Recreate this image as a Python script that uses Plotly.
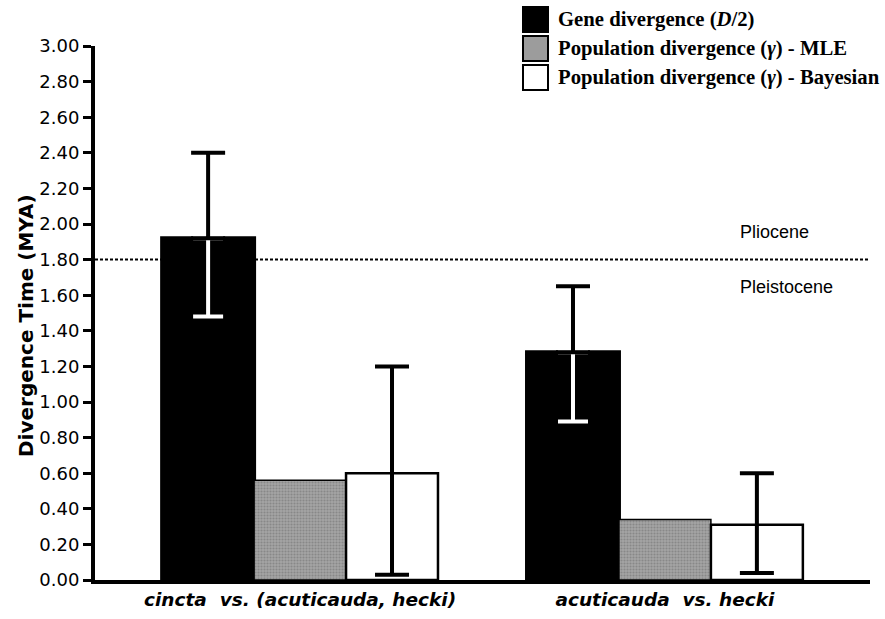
import plotly.graph_objects as go

# ---------------- data ----------------
categories = ["cincta\u00a0 vs. (acuticauda, hecki)", "acuticauda\u00a0 vs. hecki"]
gene = [1.92, 1.28]
gene_hi = [2.40, 1.65]
gene_lo = [1.48, 0.89]
mle = [0.56, 0.34]
bayes = [0.60, 0.31]
bayes_hi = [1.20, 0.60]
bayes_lo = [0.03, 0.04]

series_names = [
    "<b>Gene divergence (<i>D</i>/2)</b>",
    "<b>Population divergence (<i>\u03b3</i>) - MLE</b>",
    "<b>Population divergence (<i>\u03b3</i>) - Bayesian</b>",
]
y_ticks = [round(0.2 * i, 2) for i in range(16)]

# ---------------- layout constants ----------------
W, H = 885, 619
ML, MR, MT, MB = 95, 15, 46, 39
PW, PH = W - ML - MR, H - MT - MB


def px_x(px):
    return (px - ML) / PW


def px_y(py):
    return (H - MB - py) / PH


fig = go.Figure()

# gene divergence bars
fig.add_trace(go.Bar(
    x=categories, y=gene, offsetgroup="gene", name=series_names[0],
    marker=dict(color="black", line=dict(color="black", width=4)),
    showlegend=False, hoverinfo="y",
))
# white lower error (inside black bar)
fig.add_trace(go.Bar(
    x=categories, y=gene, offsetgroup="gene",
    marker=dict(color="rgba(0,0,0,0)", line=dict(width=0)),
    error_y=dict(type="data", symmetric=False,
                 array=[0 for _ in gene],
                 arrayminus=[g - l for g, l in zip(gene, gene_lo)],
                 color="white", thickness=4, width=15),
    showlegend=False, hoverinfo="skip",
))
# black upper error
fig.add_trace(go.Bar(
    x=categories, y=gene, offsetgroup="gene",
    marker=dict(color="rgba(0,0,0,0)", line=dict(width=0)),
    error_y=dict(type="data", symmetric=False,
                 array=[h - g for g, h in zip(gene, gene_hi)],
                 arrayminus=[0 for _ in gene],
                 color="black", thickness=4, width=17),
    showlegend=False, hoverinfo="skip",
))
# MLE bars (stippled gray)
fig.add_trace(go.Bar(
    x=categories, y=mle, offsetgroup="mle", name=series_names[1],
    marker=dict(color="#9c9c9c", line=dict(color="black", width=1.5),
                pattern=dict(shape=".", fgcolor="#6c6c6c", bgcolor="#a4a4a4",
                             size=3, solidity=0.4)),
    showlegend=False, hoverinfo="y",
))
# Bayesian bars
fig.add_trace(go.Bar(
    x=categories, y=bayes, offsetgroup="bayes", name=series_names[2],
    marker=dict(color="white", line=dict(color="black", width=2.5)),
    error_y=dict(type="data", symmetric=False,
                 array=[h - b for b, h in zip(bayes, bayes_hi)],
                 arrayminus=[b - l for b, l in zip(bayes, bayes_lo)],
                 color="black", thickness=4, width=17),
    showlegend=False, hoverinfo="y",
))

shapes = [
    dict(type="line", xref="paper", yref="y", x0=0, x1=1, y0=1.80, y1=1.80,
         line=dict(color="black", width=2, dash="3px,2px"), layer="below"),
]
annotations = [
    dict(text="Pliocene", xref="paper", yref="paper", x=px_x(738), y=px_y(232),
         xanchor="left", yanchor="middle", showarrow=False,
         font=dict(family="Liberation Sans", size=18, color="black")),
    dict(text="Pleistocene", xref="paper", yref="paper", x=px_x(738), y=px_y(287),
         xanchor="left", yanchor="middle", showarrow=False,
         font=dict(family="Liberation Sans", size=18, color="black")),
    dict(text="<b>Divergence Time (MYA)</b>", xref="paper", yref="paper",
         x=px_x(26), y=px_y(326), textangle=-90,
         xanchor="center", yanchor="middle", showarrow=False,
         font=dict(family="DejaVu Sans", size=20, color="black")),
]

# manual legend
legend_fills = ["black", "#9c9c9c", "white"]
for i, (name, fill) in enumerate(zip(series_names, legend_fills)):
    top = 7 + 29 * i
    shapes.append(dict(type="rect", xref="paper", yref="paper",
                       x0=px_x(523), x1=px_x(548), y0=px_y(top), y1=px_y(top + 25),
                       fillcolor=fill, line=dict(color="black", width=2)))
    annotations.append(dict(text=name, xref="paper", yref="paper",
                            x=px_x(556), y=px_y(top + 12.5),
                            xanchor="left", yanchor="middle", showarrow=False,
                            font=dict(family="Liberation Serif", size=20.7, color="black")))

fig.update_layout(
    width=W, height=H,
    margin=dict(l=ML, r=MR, t=MT, b=MB, autoexpand=False),
    paper_bgcolor="white", plot_bgcolor="white",
    barmode="group", bargap=0.244, bargroupgap=0,
    shapes=shapes, annotations=annotations,
    showlegend=False,
)
fig.update_xaxes(
    type="category", range=[-0.562, 1.562],
    showline=True, linecolor="black", linewidth=4,
    ticks="", showgrid=False, zeroline=False,
    tickfont=dict(family="DejaVu Sans", size=18.5, color="black",
                  weight="bold", style="italic"),
)
fig.update_yaxes(
    range=[0, 3.0], tickvals=y_ticks, tickformat=".2f",
    showline=True, linecolor="black", linewidth=4,
    ticks="outside", ticklen=8, tickwidth=3, tickcolor="black",
    showgrid=False, zeroline=False,
    tickfont=dict(family="DejaVu Sans", size=18, color="black"),
)

fig.write_html("out.html")
